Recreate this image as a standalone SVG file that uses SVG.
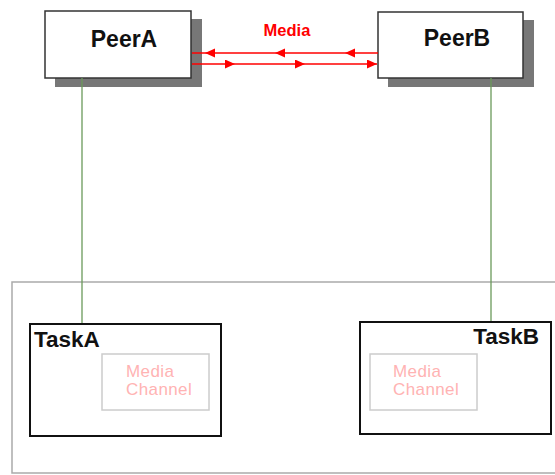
<svg xmlns="http://www.w3.org/2000/svg" width="555" height="475" viewBox="0 0 555 475">
<style>
text{font-family:"Liberation Sans",Arial,sans-serif}
.shadow{fill:#777}
.peer{fill:#fff;stroke:#333;stroke-width:1.5}
.peerText{font-size:23px;font-weight:bold;fill:#111}
.task{fill:#fff;stroke:#111;stroke-width:2}
.taskText{font-size:22.5px;font-weight:bold;fill:#111}
.chan{fill:#fff;stroke:#ccc;stroke-width:1.5}
.chanText{font-size:17px;letter-spacing:0.4px;fill:#ffb3b3}
.container{fill:#fff;stroke:#aaa;stroke-width:1.5}
.green{stroke:#6a9a5a;stroke-width:1.3;fill:none}
.red{stroke:#ff0000;stroke-width:1.6;fill:none}
.redText{font-size:16.5px;font-weight:bold;fill:#ff0000}
</style>
<defs>
<marker id="ah" markerUnits="userSpaceOnUse" markerWidth="11" markerHeight="10" refX="10" refY="4.5" orient="auto" viewBox="0 0 11 10">
<path d="M0,0 L10,4.5 L0,9 z" fill="#ff0000"/>
</marker>
</defs>
<rect width="555" height="475" fill="#fff"/>
<g id="container">
<rect class="container" x="12" y="282" width="560" height="191"/>
</g>
<g id="peerA">
<rect class="shadow" x="55" y="19" width="147" height="68"/>
<rect class="peer" x="45" y="11" width="146" height="67"/>
<text class="peerText" x="124" y="47" text-anchor="middle">PeerA</text>
</g>
<g id="peerB">
<rect class="shadow" x="388" y="20" width="146" height="67"/>
<rect class="peer" x="378" y="12" width="145" height="66"/>
<text class="peerText" x="457" y="46" text-anchor="middle">PeerB</text>
</g>
<g id="taskA">
<rect class="task" x="30" y="324" width="191" height="112"/>
<text class="taskText" x="34" y="347">TaskA</text>
</g>
<g id="mediaChannelA">
<rect class="chan" x="102" y="354" width="107" height="56"/>
<text class="chanText" x="126" y="377">Media</text>
<text class="chanText" x="126" y="395">Channel</text>
</g>
<g id="taskB">
<rect class="task" x="360" y="322" width="191" height="112"/>
<text class="taskText" x="539" y="344" text-anchor="end">TaskB</text>
</g>
<g id="mediaChannelB">
<rect class="chan" x="370" y="354" width="107" height="56"/>
<text class="chanText" x="393" y="377">Media</text>
<text class="chanText" x="393" y="395">Channel</text>
</g>
<g id="connectors">
<line class="green" x1="82" y1="78" x2="82" y2="323"/>
<line class="green" x1="491" y1="78" x2="491" y2="321"/>
<polyline class="red" points="378,53 345,53 275,53 205,53 192,53" marker-mid="url(#ah)"/>
<polyline class="red" points="192,64 235,64 305,64 377,64" marker-mid="url(#ah)" marker-end="url(#ah)"/>
<text class="redText" x="287" y="36" text-anchor="middle">Media</text>
</g>
</svg>
